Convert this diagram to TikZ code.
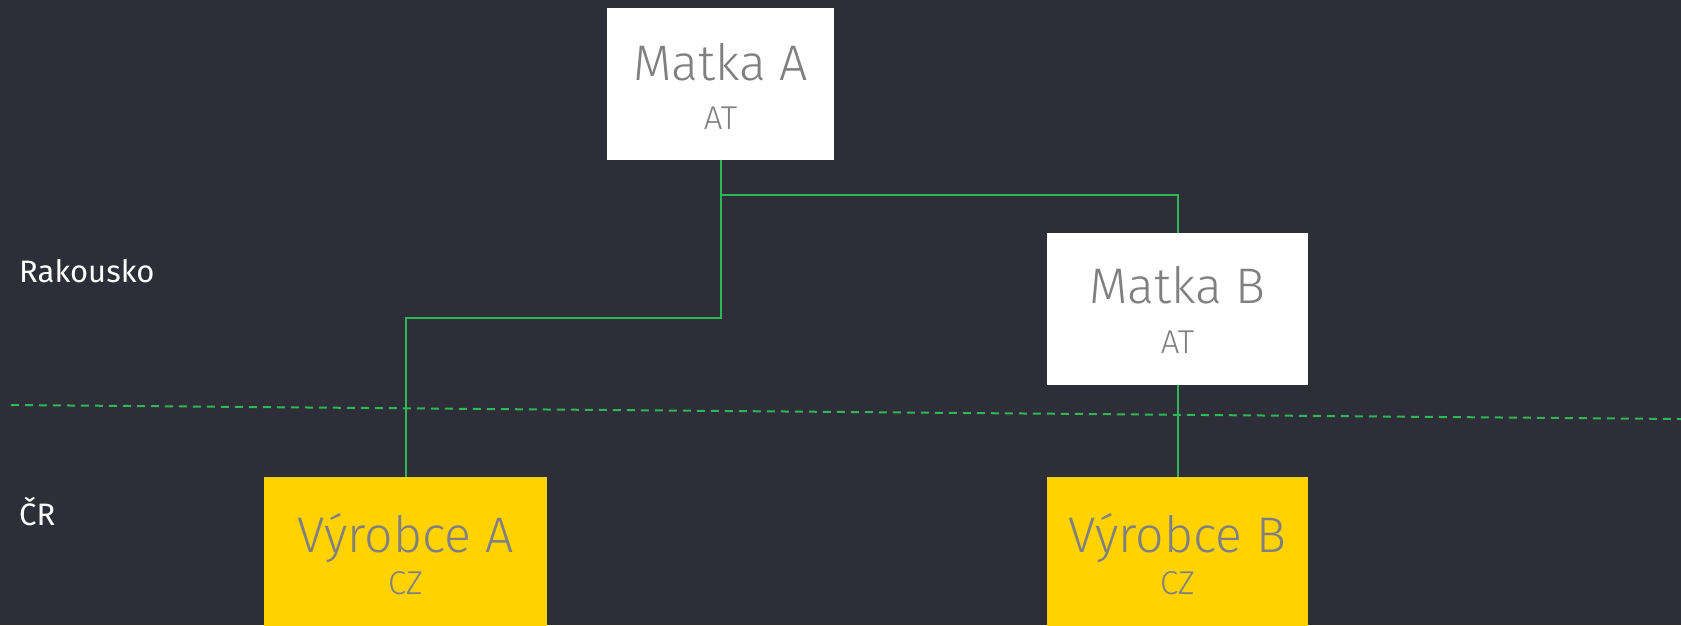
\documentclass[tikz,border=0pt]{standalone}
\usepackage{fontspec}
\setmainfont{Fira Sans}
\newfontfamily\lightfont{Fira Sans Light}
\definecolor{bg}{HTML}{2E2E38}
\definecolor{eygreen}{HTML}{2DB757}
\definecolor{eyyellow}{HTML}{FFD200}
\definecolor{txtgray}{HTML}{808080}
\begin{document}
\begin{tikzpicture}[x=1pt,y=-1pt,
  box/.style={rectangle,inner sep=0pt,outer sep=0pt,anchor=north west},
  whitebox/.style={box,fill=white},
  yellowbox/.style={box,fill=eyyellow},
  bigtxt/.style={anchor=base,inner sep=0pt,text=txtgray,font=\lightfont\fontsize{50}{50}\selectfont},
  smalltxt/.style={anchor=base,inner sep=0pt,text=txtgray,font=\lightfont\fontsize{33}{33}\selectfont},
  sidetxt/.style={anchor=base west,inner sep=0pt,text=white,font=\fontsize{31}{31}\selectfont},
  link/.style={draw=eygreen,line width=2pt},
  border/.style={draw=eygreen,line width=2pt,dash pattern=on 8pt off 6pt}]
\fill[bg] (0,0) rectangle (1681,625);
\useasboundingbox (0,0) rectangle (1681,625);
% boxes
\node[whitebox,minimum width=227pt,minimum height=152pt] (mA) at (607,8) {};
\node[whitebox,minimum width=261pt,minimum height=152pt] (mB) at (1047,233) {};
\node[yellowbox,minimum width=283pt,minimum height=160pt] (vA) at (264,477) {};
\node[yellowbox,minimum width=261pt,minimum height=160pt] (vB) at (1047,477) {};
% texts
\node[bigtxt] (mAt) at (720.5,80) {Matka A};
\node[smalltxt] (mAs) at (720.5,129) {AT};
\node[bigtxt] (mBt) at (1177.5,303) {Matka B};
\node[smalltxt] (mBs) at (1177.5,353) {AT};
\node[bigtxt] (vAt) at (405.5,552) {Výrobce A};
\node[smalltxt] (vAs) at (405.5,594) {CZ};
\node[bigtxt] (vBt) at (1177.5,552) {Výrobce B};
\node[smalltxt] (vBs) at (1177.5,594) {CZ};
\node[sidetxt] (rak) at (19,282) {Rakousko};
\node[sidetxt] (cr) at (19,525) {ČR};
% border line
\coordinate (bl) at (11,405);
\coordinate (br) at (1681,419);
\draw[border] (bl) -- (br);
% connectors
\coordinate (j1) at (720.5,318);
\coordinate (j2) at (720.5,195);
\draw[link] (mA.south) -- (j1) -| (vA.north);
\draw[link] (j2) -| (mB.north);
\draw[link] (mB.south) -- (vB.north);
\end{tikzpicture}
\end{document}
